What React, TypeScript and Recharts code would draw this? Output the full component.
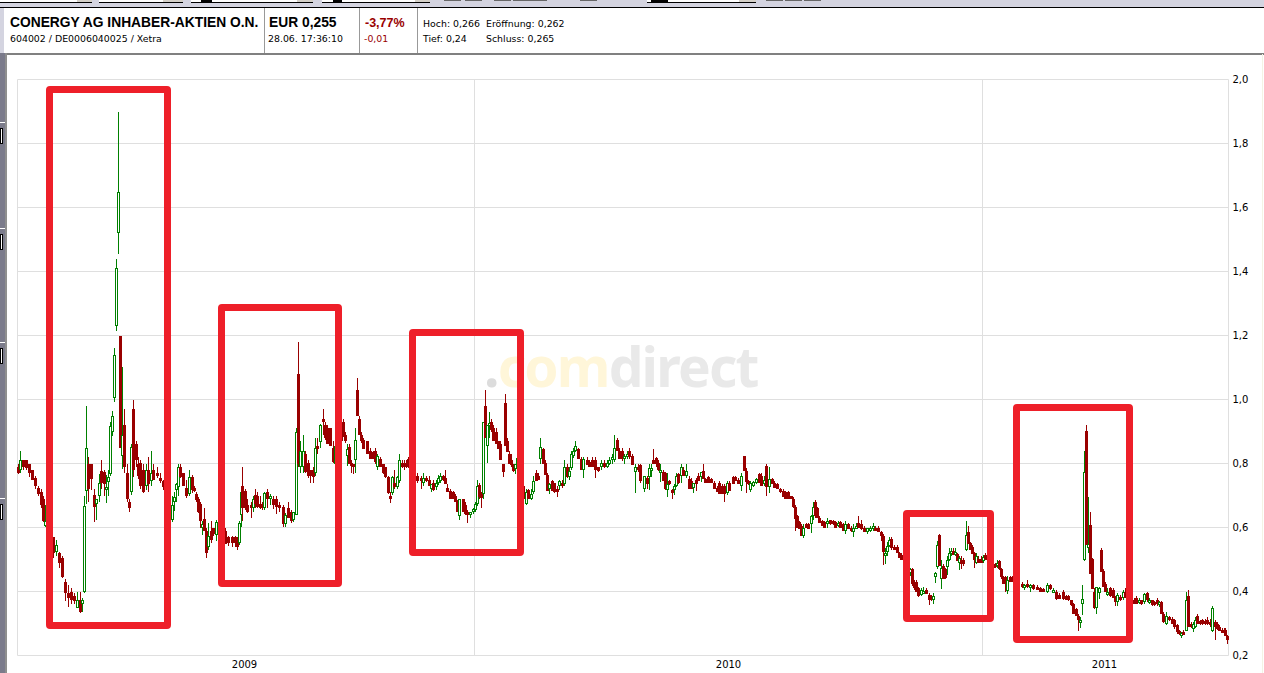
import { Bar, CartesianGrid, ComposedChart, XAxis, YAxis } from "recharts"

type Row = [number, number, number, number, number]

// session, open, high, low, close
const part2008: Row[] = [
  [1,.79,.80,.77,.77],[3,.78,.84,.77,.81],[6,.81,.81,.78,.79],[9,.81,.81,.78,.785],[12,.80,.80,.76,.77],[15,.78,.78,.75,.75],
  [18,.755,.76,.72,.73],[21,.725,.73,.70,.705],[24,.71,.72,.66,.67],[26,.69,.70,.62,.62],[28,.606,.67,.60,.62],[31,.60,.61,.565,.57],
  [33,.58,.59,.55,.56],[36,.57,.57,.505,.52],[39,.525,.56,.51,.545],[42,.52,.525,.475,.49],[45,.505,.51,.44,.445],[48,.43,.44,.37,.395],
  [51,.395,.42,.35,.38],[54,.40,.41,.36,.375],[57,.385,.395,.36,.37],[60,.35,.40,.35,.375],[63,.375,.40,.335,.335],[65,.36,.38,.335,.375],
  [67,.397,.70,.397,.667],[69,.715,.98,.675,.85],[71,.80,.82,.68,.72],[74,.80,.80,.72,.75],[77,.70,.72,.617,.665],[79,.675,.69,.625,.69],
  [82,.698,.768,.68,.739],[84,.778,.81,.72,.74],[87,.775,.78,.70,.735],[89,.716,.763,.676,.726],[91,.742,.78,.70,.757],[93,.768,.93,.76,.917],
  [95,.90,.965,.888,.95],[97,1.005,1.16,.99,1.14],[99,1.23,1.44,1.215,1.41],[101,1.52,1.90,1.456,1.647],[103,1.20,1.20,.85,.85],[105,.825,1.10,.78,.89],
  [107,.92,.97,.77,.79],[110,.77,.80,.68,.69],[112,.68,.69,.65,.66],[114,.71,.86,.70,.85],[116,.97,1.0,.76,.78],[119,.86,.87,.79,.81],
  [121,.80,.82,.75,.76],[123,.80,.81,.72,.73],[126,.78,.80,.71,.71],[129,.73,.80,.72,.78],[131,.78,.82,.71,.735],[134,.745,.84,.73,.77],
  [136,.78,.80,.75,.75],[140,.77,.79,.755,.76],[143,.755,.77,.74,.745],[146,.745,.75,.72,.725],[149,.72,.73,.69,.70],[152,.70,.71,.66,.67],
  [155,.625,.70,.62,.67],[157,.68,.71,.65,.695],[159,.716,.74,.68,.735],[161,.727,.80,.70,.79],[163,.79,.80,.755,.757],[166,.77,.77,.73,.73],
  [169,.725,.75,.695,.70],[172,.705,.78,.70,.757],[175,.757,.765,.71,.716],[177,.725,.73,.71,.715],[179,.705,.71,.68,.685],[181,.69,.695,.645,.65],
  [183,.675,.68,.60,.62],[185,.60,.62,.575,.61],[187,.627,.66,.59,.59],[189,.59,.60,.505,.52],[191,.54,.615,.53,.575],[194,.59,.62,.55,.56],
  [196,.60,.60,.575,.58],[199,.578,.625,.56,.616],[202,.60,.62,.57,.58],[205,.59,.60,.56,.565],[208,.59,.60,.55,.55],[211,.57,.575,.545,.55],
  [215,.57,.575,.54,.55],[218,.57,.575,.54,.55],[220,.56,.57,.53,.54],[222,.55,.62,.545,.615],[224,.64,.72,.60,.71],[225,.73,.79,.62,.66],
]

const part2009: Row[] = [
  [228,.715,.72,.655,.66],[230,.67,.69,.645,.65],[234,.67,.68,.63,.66],[236,.66,.70,.65,.69],[238,.70,.72,.66,.675],[240,.70,.71,.66,.665],
  [243,.675,.70,.66,.66],[245,.67,.68,.655,.66],[247,.66,.71,.655,.708],[250,.71,.72,.66,.69],[253,.69,.705,.67,.70],[256,.69,.70,.66,.67],
  [259,.69,.70,.645,.665],[262,.67,.68,.65,.66],[266,.665,.67,.60,.61],[268,.61,.645,.60,.64],[271,.66,.68,.63,.63],[274,.65,.655,.615,.62],
  [276,.625,.65,.62,.65],[279,.64,.91,.64,.898],[281,1.08,1.18,.79,.80],[283,.79,.87,.77,.84],[286,.79,.89,.77,.84],[288,.83,.84,.77,.775],
  [291,.80,.81,.755,.76],[293,.78,.78,.74,.76],[296,.78,.79,.74,.757],[298,.77,.88,.76,.85],[300,.855,.88,.83,.85],[303,.866,.925,.85,.92],
  [306,.94,.97,.89,.935],[308,.92,.93,.875,.88],[310,.91,.92,.86,.862],[313,.91,.91,.855,.855],[316,.85,.87,.80,.805],[318,.80,.86,.79,.855],
  [321,.85,.86,.80,.81],[324,.90,.93,.86,.87],[326,.93,.94,.885,.89],[328,.89,.90,.866,.87],[330,.825,.86,.79,.845],[332,.85,.86,.80,.80],
  [334,.80,.81,.77,.795],[336,.80,.80,.77,.795],[338,.81,.91,.77,.875],[340,1.03,1.068,.95,.95],[342,.94,.95,.89,.89],[344,.89,.90,.865,.87],
  [346,.875,.88,.845,.845],[350,.87,.87,.83,.83],[353,.84,.85,.815,.815],[356,.835,.84,.815,.815],[358,.84,.85,.80,.805],[360,.79,.83,.78,.825],
  [363,.815,.82,.79,.79],[366,.80,.80,.77,.77],[368,.79,.79,.755,.757],[371,.757,.76,.705,.707],[373,.70,.71,.675,.695],[375,.707,.76,.70,.757],
  [377,.74,.78,.72,.725],[380,.725,.76,.72,.757],[382,.745,.83,.74,.81],[385,.80,.81,.785,.79],[387,.80,.81,.78,.79],[389,.80,.81,.785,.79],
  [391,.815,.82,.785,.79],[394,.79,.80,.72,.73],[397,.76,.77,.74,.75],[400,.76,.77,.74,.745],[404,.755,.76,.72,.745],[406,.74,.77,.73,.755],
  [409,.755,.76,.74,.745],[412,.75,.76,.73,.73],[414,.72,.735,.71,.735],[416,.74,.75,.715,.717],[419,.725,.75,.72,.74],[421,.74,.765,.735,.755],
  [423,.745,.77,.74,.76],[426,.76,.765,.745,.75],[428,.755,.78,.735,.735],[430,.725,.735,.71,.71],[433,.715,.72,.69,.69],[436,.71,.715,.69,.69],
  [438,.70,.705,.68,.68],[440,.68,.685,.65,.65],[442,.637,.69,.625,.69],[446,.69,.69,.65,.65],[448,.67,.68,.64,.642],[450,.648,.655,.615,.638],
  [453,.638,.65,.63,.648],[456,.648,.66,.64,.658],[458,.655,.68,.65,.675],[460,.675,.75,.67,.73],[462,.733,.74,.69,.694],[464,.705,.71,.66,.693],
  [466,.705,.93,.69,.93],[468,.98,1.03,.88,.88],[470,.855,.92,.80,.92],[472,.92,.96,.88,.925],[474,.93,.94,.90,.905],[476,.91,.92,.87,.87],
  [479,.90,.91,.86,.86],[481,.87,.87,.845,.845],[483,.86,.87,.81,.81],[486,.80,.80,.76,.775],[488,.989,1.018,.856,.856],[490,.87,.88,.835,.835],
  [492,.83,.84,.80,.80],[494,.81,.83,.79,.795],[496,.80,.80,.775,.778],[498,.783,.80,.77,.798],[500,.783,.825,.77,.817],[503,.80,.81,.72,.73],
  [506,.73,.74,.68,.69],[509,.675,.72,.67,.71],[511,.717,.72,.69,.69],[514,.69,.72,.685,.705],[516,.71,.76,.705,.745],[519,.77,.78,.745,.745],
  [521,.76,.77,.75,.75],[523,.815,.88,.80,.853],[526,.845,.85,.80,.80],[528,.80,.81,.765,.765],[530,.765,.77,.715,.715],[532,.72,.74,.705,.735],
  [535,.745,.75,.715,.715],[537,.74,.74,.71,.71],[540,.72,.73,.695,.71],[542,.73,.75,.72,.745],[545,.74,.75,.725,.73],[547,.735,.81,.73,.79],
  [550,.79,.80,.755,.757],[552,.757,.79,.75,.778],[554,.785,.84,.78,.83],[556,.825,.85,.82,.84],[558,.84,.87,.835,.855],[561,.845,.85,.815,.815],
  [564,.815,.82,.78,.78],[566,.78,.82,.755,.815],[570,.81,.82,.795,.795],[572,.805,.81,.79,.79],[575,.81,.82,.79,.79],[578,.81,.82,.755,.78],
  [581,.79,.79,.775,.778],[584,.79,.81,.78,.80],[587,.80,.81,.785,.79],[590,.79,.81,.785,.80],[592,.80,.82,.795,.81],[595,.81,.83,.80,.82],
  [597,.81,.89,.805,.85],[600,.875,.88,.84,.84],[602,.84,.85,.815,.815],[605,.84,.85,.81,.815],[607,.815,.83,.80,.825],[610,.82,.84,.815,.83],
  [612,.84,.85,.815,.82],[615,.825,.83,.795,.795],[618,.775,.80,.71,.79],[621,.79,.80,.775,.78],
]

const part2010: Row[] = [
  [623,.795,.80,.74,.745],[627,.72,.76,.71,.76],[630,.755,.76,.72,.735],[632,.757,.80,.72,.785],[634,.78,.80,.76,.785],[636,.81,.844,.80,.80],
  [639,.817,.82,.79,.80],[641,.80,.81,.775,.78],[643,.775,.80,.745,.78],[646,.775,.78,.745,.745],[648,.77,.775,.72,.72],[650,.717,.77,.695,.735],
  [652,.745,.75,.735,.735],[655,.717,.72,.69,.707],[657,.717,.735,.70,.73],[659,.73,.77,.725,.762],[661,.767,.77,.735,.74],[664,.762,.80,.74,.788],
  [666,.78,.79,.762,.762],[669,.762,.80,.755,.778],[672,.752,.76,.72,.72],[674,.746,.755,.72,.72],[676,.725,.74,.71,.738],[679,.75,.755,.715,.737],
  [681,.762,.77,.745,.745],[684,.757,.775,.745,.772],[686,.778,.80,.752,.752],[688,.752,.755,.74,.74],[691,.757,.76,.74,.74],[694,.752,.755,.74,.74],
  [697,.74,.745,.72,.72],[700,.725,.73,.71,.71],[702,.74,.745,.705,.705],[705,.73,.735,.705,.705],[707,.73,.735,.68,.705],[710,.707,.745,.70,.74],
  [712,.74,.745,.715,.715],[716,.757,.76,.735,.735],[718,.757,.76,.745,.745],[721,.75,.755,.735,.735],[724,.73,.77,.715,.762],[727,.822,.825,.778,.778],
  [729,.778,.785,.707,.742],[731,.745,.75,.735,.735],[733,.717,.745,.71,.74],[736,.73,.745,.725,.742],[739,.74,.755,.735,.752],[742,.767,.77,.74,.74],
  [744,.762,.77,.73,.73],[747,.737,.76,.73,.747],[749,.793,.80,.70,.726],[752,.726,.79,.71,.752],[755,.752,.755,.735,.737],[757,.74,.745,.725,.725],
  [760,.737,.74,.72,.72],[763,.72,.725,.71,.71],[766,.715,.72,.695,.696],[768,.71,.715,.69,.69],[771,.71,.715,.69,.69],[774,.697,.70,.69,.69],
  [776,.69,.695,.66,.663],[778,.663,.67,.588,.627],[780,.637,.64,.60,.60],[782,.616,.62,.595,.595],[784,.605,.61,.575,.575],[786,.572,.61,.567,.60],
  [789,.61,.615,.598,.598],[791,.61,.615,.595,.595],[794,.61,.64,.585,.637],[796,.637,.68,.625,.663],[798,.68,.685,.63,.635],[800,.66,.665,.63,.63],
  [802,.63,.635,.615,.615],[805,.62,.625,.605,.605],[807,.618,.62,.60,.60],[810,.61,.63,.60,.62],[813,.622,.625,.61,.61],[816,.62,.625,.608,.61],
  [818,.616,.62,.60,.60],[821,.605,.62,.60,.615],[823,.616,.62,.60,.60],[826,.61,.615,.59,.59],[828,.59,.62,.58,.61],[831,.61,.615,.595,.595],
  [834,.60,.605,.585,.59],[836,.585,.61,.57,.60],[839,.60,.615,.595,.605],[841,.615,.637,.60,.60],[844,.61,.625,.595,.595],[847,.60,.605,.585,.585],
  [850,.587,.60,.58,.597],[853,.59,.605,.585,.60],[856,.597,.615,.59,.605],[858,.60,.605,.59,.59],[861,.60,.605,.585,.585],[864,.585,.59,.56,.575],
  [866,.575,.58,.484,.523],[868,.51,.535,.484,.52],[870,.523,.555,.51,.543],[872,.543,.57,.54,.56],[874,.565,.57,.53,.535],[877,.54,.545,.53,.53],
  [880,.54,.545,.52,.52],[882,.52,.525,.505,.505],[884,.515,.52,.50,.50],[887,.50,.505,.49,.49],[889,.49,.50,.475,.48],[893,.458,.475,.45,.47],
  [895,.47,.475,.42,.425],[897,.43,.435,.405,.41],[899,.43,.435,.40,.40],[901,.41,.415,.385,.385],[904,.39,.41,.385,.405],[906,.40,.415,.395,.40],
  [909,.406,.41,.392,.392],[912,.39,.395,.358,.375],[914,.385,.39,.37,.372],[916,.372,.395,.36,.385],[918,.444,.46,.427,.457],[920,.476,.559,.47,.546],
  [922,.577,.58,.48,.48],[924,.44,.50,.41,.475],[926,.48,.485,.44,.44],[928,.47,.475,.44,.442],[930,.476,.51,.45,.50],[932,.50,.537,.495,.52],
  [934,.517,.535,.51,.527],[936,.527,.535,.515,.515],[938,.515,.535,.51,.525],[940,.517,.52,.495,.495],[942,.49,.51,.465,.505],[944,.50,.51,.47,.485],
  [946,.50,.505,.48,.487],[949,.53,.62,.525,.578],[951,.585,.606,.55,.55],[953,.553,.555,.53,.53],[955,.54,.545,.517,.517],[957,.52,.525,.476,.497],
  [959,.49,.52,.485,.512],[961,.502,.51,.49,.49],[964,.502,.51,.49,.49],[966,.495,.515,.49,.507],[968,.515,.52,.497,.50],[970,.51,.515,.495,.497],
]

const part2011: Row[] = [
  [973,.50,.505,.48,.485],[976,.485,.49,.47,.475],[978,.487,.49,.475,.477],[980,.48,.50,.475,.49],[982,.495,.50,.47,.47],[984,.47,.475,.44,.445],
  [986,.445,.45,.425,.425],[988,.445,.45,.40,.425],[990,.40,.45,.395,.435],[993,.445,.45,.43,.43],[995,.445,.45,.43,.43],[998,.43,.435,.42,.425],
  [1001,.425,.43,.415,.42],[1005,.425,.43,.41,.415],[1007,.41,.425,.405,.42],[1010,.425,.435,.41,.415],[1013,.41,.425,.40,.42],[1016,.42,.425,.405,.407],
  [1020,.415,.42,.405,.405],[1023,.41,.415,.40,.40],[1026,.407,.41,.397,.398],[1030,.398,.427,.395,.42],[1033,.42,.425,.405,.407],[1036,.398,.41,.395,.405],
  [1039,.40,.405,.375,.377],[1042,.39,.395,.375,.377],[1046,.40,.405,.375,.377],[1049,.385,.39,.375,.375],[1051,.387,.39,.37,.372],[1054,.372,.375,.355,.357],
  [1056,.36,.365,.33,.33],[1059,.345,.35,.325,.325],[1061,.325,.33,.278,.31],[1063,.302,.32,.285,.31],[1065,.36,.42,.327,.377],[1067,.499,.84,.495,.774],
  [1069,.903,.919,.544,.544],[1071,.535,.695,.52,.547],[1073,.608,.648,.455,.455],[1075,.502,.505,.408,.408],[1077,.40,.41,.345,.347],[1079,.35,.415,.33,.413],
  [1082,.395,.415,.377,.412],[1084,.531,.535,.46,.46],[1086,.465,.47,.414,.414],[1088,.424,.43,.40,.40],[1090,.39,.41,.385,.40],[1093,.41,.415,.385,.385],
  [1096,.405,.41,.38,.38],[1098,.38,.385,.355,.367],[1100,.367,.395,.355,.388],[1103,.382,.39,.372,.372],[1106,.38,.406,.375,.398],[1108,.40,.41,.38,.38],
  [1111,.39,.395,.375,.38],[1114,.385,.39,.37,.375],[1117,.375,.38,.36,.362],[1119,.38,.385,.36,.362],[1122,.367,.38,.36,.375],[1124,.372,.375,.36,.362],
  [1127,.367,.395,.36,.392],[1130,.395,.40,.37,.372],[1132,.367,.38,.36,.375],[1135,.372,.375,.355,.357],[1137,.367,.37,.355,.357],[1140,.372,.38,.355,.36],
  [1142,.357,.37,.35,.367],[1144,.367,.37,.33,.33],[1146,.33,.335,.30,.305],[1149,.30,.335,.293,.322],[1152,.32,.325,.31,.31],[1155,.315,.32,.30,.30],
  [1157,.31,.315,.285,.29],[1160,.294,.30,.27,.273],[1162,.278,.28,.265,.268],[1164,.265,.275,.255,.27],[1166,.275,.28,.265,.266],[1169,.278,.398,.275,.372],
  [1171,.387,.406,.289,.289],[1174,.30,.305,.285,.29],[1176,.284,.305,.275,.30],[1178,.29,.32,.285,.31],[1180,.325,.33,.30,.30],[1183,.307,.31,.295,.297],
  [1185,.31,.315,.295,.297],[1188,.307,.315,.295,.297],[1190,.31,.32,.295,.297],[1193,.305,.315,.29,.295],[1195,.278,.355,.275,.349],[1198,.305,.31,.248,.29],
  [1200,.297,.305,.28,.284],[1202,.29,.295,.275,.278],[1205,.28,.285,.27,.273],[1207,.28,.285,.27,.273],[1208,.28,.285,.262,.262],[1210,.262,.265,.237,.25],
]

const priceTicks = [0.2, 0.4, 0.6, 0.8, 1.0, 1.2, 1.4, 1.6, 1.8, 2.0]
const yearTicks = [227, 711, 1087]
const yearLabels = ["2009", "2010", "2011"]
const yearLines = [0, 457, 965, 1211]

const data = [...part2008, ...part2009, ...part2010, ...part2011].map(([day, open, high, low, close]) => ({
  day,
  open,
  high,
  low,
  close,
  range: [low, high],
}))

// red marker boxes painted over the chart
const markers = [
  { left: 46, top: 86, width: 125, height: 543 },
  { left: 218, top: 304, width: 124, height: 283 },
  { left: 409, top: 329, width: 115, height: 227 },
  { left: 903, top: 510, width: 91, height: 112 },
  { left: 1013, top: 404, width: 120, height: 239 },
]

const smallFont = '"DejaVu Sans", sans-serif'
const boldFont = '"Liberation Sans", sans-serif'

function Candle(props: any) {
  const { x, y, width, height, payload } = props
  const { open, high, low, close } = payload
  const top = Math.min(y, y + height)
  const span = Math.abs(height)
  const perUnit = high > low ? span / (high - low) : 0
  const yOf = (p: number) => top + (high - p) * perUnit
  const left = Math.round(x + width / 2 - 1.5)
  const up = close >= open
  const color = up ? "#008000" : "#990000"
  const bodyTop = Math.round(yOf(Math.max(open, close)))
  const bodyBottom = Math.max(Math.round(yOf(Math.min(open, close))), bodyTop + 3)
  return (
    <g shapeRendering="crispEdges">
      <rect x={left + 1} y={Math.round(top)} width={1} height={Math.max(Math.round(span), 1)} fill={color} />
      <rect x={left} y={bodyTop} width={3} height={bodyBottom - bodyTop} fill={color} />
      {up && <rect x={left + 1} y={bodyTop + 1} width={1} height={bodyBottom - bodyTop - 2} fill="#fff" />}
    </g>
  )
}

function Text(p: { x: number; y: number; size?: number; bold?: boolean; color?: string; children: string }) {
  return (
    <div
      style={{
        position: "absolute",
        left: p.x,
        top: p.y,
        fontFamily: p.bold ? boldFont : smallFont,
        fontWeight: p.bold ? 700 : 400,
        fontSize: p.size ?? 9.4,
        lineHeight: "14px",
        color: p.color ?? "#000",
        whiteSpace: "nowrap",
      }}
    >
      {p.children}
    </div>
  )
}

function Block(p: { x: number; y: number; w: number; h: number; c: string; border?: string }) {
  return (
    <div
      style={{
        position: "absolute",
        left: p.x,
        top: p.y,
        width: p.w,
        height: p.h,
        background: p.c,
        border: p.border,
        boxSizing: "border-box",
      }}
    />
  )
}

const dropdowns = [
  [0, 92, 77, 0, 0],
  [99, 84, 163, 0, 0],
  [191, 122, 297, 201, 11],
  [322, 108, 415, 333, 9],
  [647, 109, 739, 651, 17],
]
const toolbarButtons = [444, 465, 494, 513, 530, 580, 766, 785, 804]
const sidebarMarks = [122, 228, 342, 498]

export default function App() {
  return (
    <div style={{ position: "absolute", left: 0, top: 0, width: 1264, height: 673, background: "#fff", overflow: "hidden" }}>
      <Block x={0} y={0} w={1264} h={7} c="#d4d4e0" />
      <Block x={0} y={7} w={1264} h={1} c="#000" />
      {dropdowns.map(([x, w, g, b, bw]) => (
        <div key={x}>
          <Block x={x} y={0} w={w} h={3} c="#fff" />
          <Block x={g} y={0} w={x + w - g} h={2} c="#d4d0c8" />
          {bw > 0 && <Block x={b} y={0} w={bw} h={2} c="#000" />}
          <Block x={x} y={2} w={w} h={1} c="#000" />
        </div>
      ))}
      {toolbarButtons.map((x) => (
        <Block key={x} x={x} y={0} w={17} h={1} c="#666" />
      ))}

      <Text x={10} y={16} size={13.8} bold>CONERGY AG INHABER-AKTIEN O.N.</Text>
      <Text x={10} y={32}>604002 / DE0006040025 / Xetra</Text>
      <Block x={264} y={8} w={1} h={45} c="#999" />
      <Text x={269} y={16} size={13.8} bold>EUR 0,255</Text>
      <Text x={268} y={32}>28.06. 17:36:10</Text>
      <Block x={359} y={8} w={1} h={45} c="#999" />
      <Text x={365} y={16} size={12.5} bold color="#990000">-3,77%</Text>
      <Text x={364} y={32} color="#990000">-0,01</Text>
      <Block x={417} y={8} w={1} h={45} c="#999" />
      <Text x={423} y={17}>Hoch: 0,266</Text>
      <Text x={486} y={17}>Eröffnung: 0,262</Text>
      <Text x={423} y={32}>Tief: 0,24</Text>
      <Text x={486} y={32}>Schluss: 0,265</Text>

      <Block x={0} y={53} w={1264} h={2} c="#808080" />
      <Block x={0} y={8} w={4} h={45} c="#d4d4e0" />
      <Block x={0} y={53} w={5} h={620} c="#7b7b8b" />
      <Block x={5} y={53} w={2} h={620} c="#8f8f8f" />
      <Block x={1262} y={54} w={1} h={619} c="#f4f3e4" />
      {sidebarMarks.map((y) => (
        <div key={y}>
          <Block x={0} y={y} w={5} h={1} c="#fff" />
          <Block x={0} y={y + 6} w={3} h={16} c="#fff" border="1px solid #000" />
        </div>
      ))}

      <div
        style={{
          position: "absolute",
          left: 484,
          top: 331,
          fontFamily: '"Noto Sans", sans-serif',
          fontWeight: 700,
          fontSize: 55,
          lineHeight: "70px",
          letterSpacing: -1.8,
          whiteSpace: "nowrap",
        }}
      >
        <span style={{ color: "#dcdcdc" }}>.</span>
        <span style={{ color: "#fff6d9" }}>com</span>
        <span style={{ color: "#e9e9e9" }}>direct</span>
      </div>

      <div style={{ position: "absolute", left: 0, top: 0 }}>
        <ComposedChart width={1264} height={673} data={data} margin={{ top: 79.5, right: 0, bottom: 0, left: 17.5 }}>
          <CartesianGrid stroke="#dfdfdf" strokeWidth={1} verticalValues={yearLines} horizontalValues={priceTicks} />
          <XAxis
            type="number"
            dataKey="day"
            domain={[0, 1211]}
            ticks={yearTicks}
            tickFormatter={(v: number) => yearLabels[yearTicks.indexOf(v)]}
            height={17.5}
            axisLine={false}
            tickLine={false}
            tickSize={0}
            tickMargin={5}
            interval={0}
            tick={{ fontFamily: smallFont, fontSize: 10, fill: "#000" }}
          />
          <YAxis
            orientation="right"
            type="number"
            domain={[0.2, 2]}
            ticks={priceTicks}
            tickFormatter={(v: number) => v.toFixed(1).replace(".", ",")}
            width={35.5}
            axisLine={false}
            tickLine={false}
            tickSize={0}
            tickMargin={4}
            interval={0}
            tick={{ fontFamily: smallFont, fontSize: 10, fill: "#000" }}
          />
          <Bar dataKey="range" barSize={3} shape={Candle} isAnimationActive={false} />
        </ComposedChart>
      </div>

      {markers.map((m) => (
        <div
          key={m.left}
          style={{
            position: "absolute",
            left: m.left,
            top: m.top,
            width: m.width,
            height: m.height,
            boxSizing: "border-box",
            border: "7px solid #ee1f29",
            borderRadius: 4,
          }}
        />
      ))}
    </div>
  )
}
